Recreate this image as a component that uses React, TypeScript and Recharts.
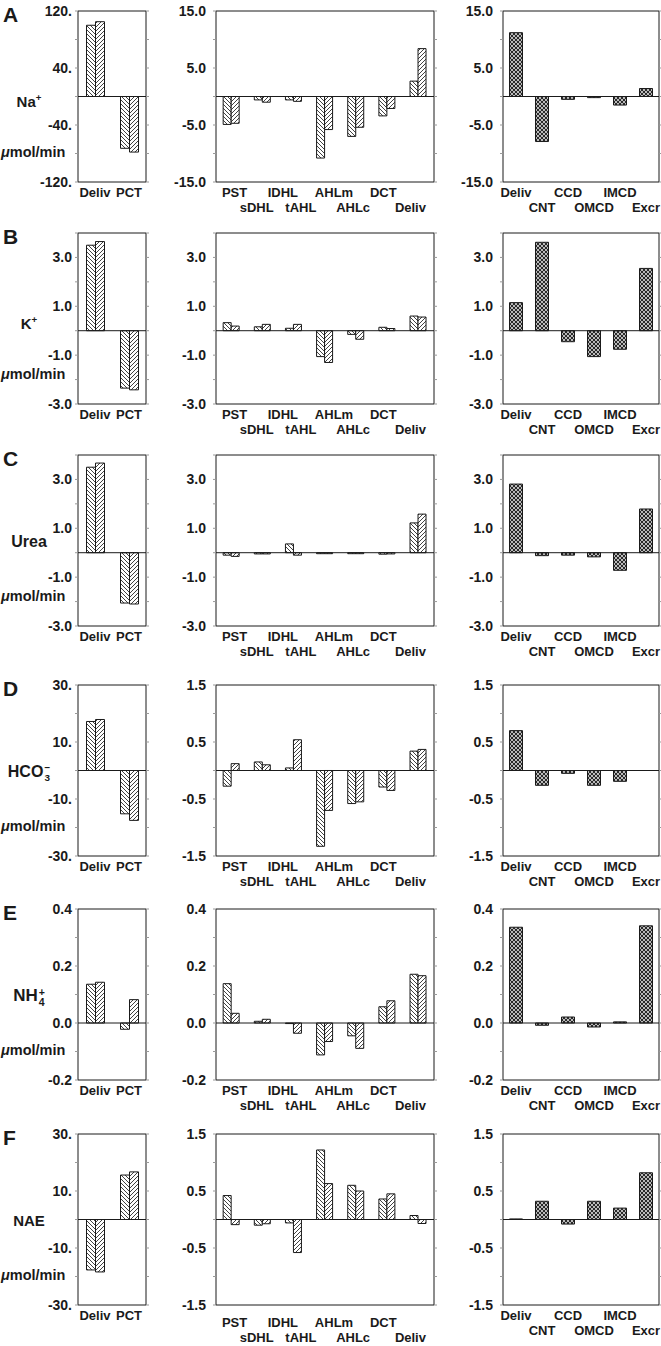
import React from 'react';
import { Bar, BarChart, ReferenceLine, XAxis, YAxis } from 'recharts';

const FONT = '"Liberation Sans", Arial, Helvetica, sans-serif';
const INK = '#1a1a1a';

// categories and labels
const leftCats = ['Deliv', 'PCT'];
const midCats = ['PST', 'sDHL', 'IDHL/tAHL', 'AHLm', 'AHLc', 'DCT', 'Deliv'];
const midLabels = ['PST', 'sDHL', 'IDHL', 'tAHL', 'AHLm', 'AHLc', 'DCT', 'Deliv'];
const midLabelGroup = [0, 1, 2, 2, 3, 4, 5, 6];
const rightCats = ['Deliv', 'CNT', 'CCD', 'OMCD', 'IMCD', 'Excr'];

// y ticks
const ticksNaLeft = [-120, -80, -40, 0, 40, 80, 120];
const labelsNaLeft = ['-120.', '', '-40.', '', '40.', '', '120.'];
const ticksNa = [-15, -10, -5, 0, 5, 10, 15];
const labelsNa = ['-15.0', '', '-5.0', '', '5.0', '', '15.0'];
const ticksK = [-3, -2, -1, 0, 1, 2, 3, 4];
const labelsK = ['-3.0', '', '-1.0', '', '1.0', '', '3.0', ''];
const ticksBigLeft = [-30, -20, -10, 0, 10, 20, 30];
const labelsBigLeft = ['-30.', '', '-10.', '', '10.', '', '30.'];
const ticksSmall = [-1.5, -1, -0.5, 0, 0.5, 1, 1.5];
const labelsSmall = ['-1.5', '', '-0.5', '', '0.5', '', '1.5'];
const ticksNh4 = [-0.2, -0.1, 0, 0.1, 0.2, 0.3, 0.4];
const labelsNh4 = ['-0.2', '', '0.0', '', '0.2', '', '0.4'];

// Na+
const naLeftA = [100, -72.7];
const naLeftB = [105, -78];
const naMidA = [-4.9, -0.6, -0.6, -10.8, -7.0, -3.4, 2.7];
const naMidB = [-4.7, -1.0, -0.85, -5.8, -5.4, -2.1, 8.4];
const naRight = [11.2, -7.9, -0.5, -0.2, -1.5, 1.4];

// K+
const kLeftA = [3.5, -2.35];
const kLeftB = [3.65, -2.42];
const kMidA = [0.33, 0.16, 0.1, -1.06, -0.15, 0.14, 0.6];
const kMidB = [0.19, 0.26, 0.26, -1.3, -0.35, 0.09, 0.56];
const kRight = [1.15, 3.62, -0.45, -1.06, -0.76, 2.55];

// Urea
const ureaLeftA = [3.5, -2.06];
const ureaLeftB = [3.67, -2.1];
const ureaMidA = [-0.1, -0.05, 0.36, -0.04, -0.04, -0.06, 1.22];
const ureaMidB = [-0.15, -0.05, -0.1, -0.04, -0.04, -0.05, 1.58];
const ureaRight = [2.81, -0.12, -0.1, -0.17, -0.72, 1.79];

// HCO3-
const hco3LeftA = [17.2, -15.2];
const hco3LeftB = [17.9, -17.5];
const hco3MidA = [-0.275, 0.15, 0.045, -1.33, -0.58, -0.29, 0.34];
const hco3MidB = [0.12, 0.1, 0.54, -0.7, -0.55, -0.35, 0.37];
const hco3Right = [0.7, -0.26, -0.05, -0.26, -0.19, 0];

// NH4+
const nh4LeftA = [0.136, -0.022];
const nh4LeftB = [0.143, 0.082];
const nh4MidA = [0.138, 0.006, -0.002, -0.112, -0.045, 0.057, 0.171];
const nh4MidB = [0.034, 0.013, -0.036, -0.065, -0.089, 0.078, 0.166];
const nh4Right = [0.336, -0.008, 0.021, -0.014, 0.004, 0.341];

// NAE
const naeLeftA = [-17.7, 15.6];
const naeLeftB = [-18.4, 16.7];
const naeMidA = [0.42, -0.1, -0.06, 1.22, 0.6, 0.36, 0.07];
const naeMidB = [-0.09, -0.075, -0.58, 0.63, 0.5, 0.45, -0.07];
const naeRight = [0.01, 0.32, -0.08, 0.32, 0.2, 0.82];

const YW = 50;
const RW = 6;
const MT = 12;
const PH = 171;
const XH = 44;
// horizontal nudge of the staggered middle labels, relative to their bar group
const MID_LABEL_DX = [3, -6, -11, 7, 9, -3, -4, -8];

const GEO: any = {
  left: { x: 78, w: 68, gap: 3, catGap: '25%', cats: leftCats, fills: ['url(#hb)', 'url(#hf)'] },
  mid: { x: 216, w: 218, gap: 7, catGap: '23%', cats: midCats, fills: ['url(#hb)', 'url(#hf)'] },
  right: { x: 503, w: 156, gap: 7, catGap: '25%', cats: rightCats, fills: ['url(#ck)'] },
};

const labelStyle = { fontSize: 13, fontWeight: 700, fontFamily: FONT, fill: INK };
const tickStyle = { fontSize: 14, fontWeight: 700, fontFamily: FONT, fill: INK };

function catTick(kind: string, drop: number) {
  return (p: any) => {
    const i = p.index ?? p.payload?.index ?? 0;
    if (kind === 'mid') {
      return (
        <g>
          {midLabels.map((t, j) =>
            midLabelGroup[j] === i ? (
              <text
                key={t}
                x={p.x + MID_LABEL_DX[j]}
                y={p.y + (j % 2 ? 25 : 10) + drop}
                textAnchor="middle"
                dominantBaseline="central"
                {...labelStyle}
              >
                {t}
              </text>
            ) : null,
          )}
        </g>
      );
    }
    const dy = kind === 'right' && i % 2 ? 25 : 10;
    return (
      <text x={p.x} y={p.y + dy + drop} textAnchor="middle" dominantBaseline="central" {...labelStyle}>
        {p.payload.value}
      </text>
    );
  };
}

function Panel({ kind, top, series, ticks, labels, drop = 0 }: any) {
  const g = GEO[kind];
  const data = g.cats.map((name: string, i: number) => {
    const row: any = { name };
    series.forEach((s: number[], k: number) => (row['s' + k] = s[i]));
    return row;
  });
  const lo = ticks[0];
  const hi = ticks[ticks.length - 1];
  const fmt = (v: number) => labels[ticks.indexOf(v)] ?? '';
  const yTick = (p: any) => (
    <text x={p.x} y={p.y} textAnchor="end" dominantBaseline="central" {...tickStyle}>
      {fmt(p.payload.value)}
    </text>
  );
  return (
    <div style={{ position: 'absolute', left: g.x - YW, top: top - MT }}>
      <BarChart
        width={YW + g.w + RW}
        height={MT + PH + XH}
        data={data}
        margin={{ top: MT, right: 0, left: 0, bottom: 0 }}
        barGap={0}
        barCategoryGap={g.catGap}
      >
        <XAxis
          dataKey="name"
          height={XH}
          interval={0}
          tickLine={false}
          tickSize={0}
          tickMargin={0}
          axisLine={{ stroke: INK }}
          tick={catTick(kind, drop)}
        />
        <YAxis
          type="number"
          domain={[lo, hi]}
          ticks={ticks}
          interval={0}
          width={YW}
          allowDataOverflow
          tickSize={3}
          tickMargin={g.gap}
          tickLine={{ stroke: '#999' }}
          axisLine={{ stroke: INK }}
          tick={yTick}
        />
        <YAxis
          yAxisId="r"
          orientation="right"
          type="number"
          domain={[lo, hi]}
          ticks={ticks}
          interval={0}
          width={RW}
          allowDataOverflow
          tickSize={3}
          tickLine={{ stroke: '#999' }}
          axisLine={{ stroke: INK }}
          tickFormatter={() => ''}
        />
        {series.map((_: number[], k: number) => (
          <Bar key={k} dataKey={'s' + k} fill={g.fills[k]} stroke={INK} strokeWidth={1} isAnimationActive={false} />
        ))}
        <ReferenceLine y={0} stroke={INK} strokeWidth={1} />
        <ReferenceLine y={hi} stroke={INK} strokeWidth={1} />
      </BarChart>
    </div>
  );
}

const Stack = ({ sup, sub }: { sup: string; sub: string }) => (
  <span
    style={{
      display: 'inline-flex',
      flexDirection: 'column',
      fontSize: '0.62em',
      lineHeight: 0.95,
      verticalAlign: 'middle',
      marginLeft: 1,
    }}
  >
    <span>{sup}</span>
    <span>{sub}</span>
  </span>
);

const rows = [
  {
    letter: 'A', top: 11, size: 15, ion: <>Na<sup style={{ fontSize: '0.65em' }}>+</sup></>,
    left: { series: [naLeftA, naLeftB], ticks: ticksNaLeft, labels: labelsNaLeft },
    mid: { series: [naMidA, naMidB], ticks: ticksNa, labels: labelsNa },
    right: { series: [naRight], ticks: ticksNa, labels: labelsNa },
  },
  {
    letter: 'B', top: 233, size: 15, ion: <>K<sup style={{ fontSize: '0.65em' }}>+</sup></>,
    left: { series: [kLeftA, kLeftB], ticks: ticksK, labels: labelsK },
    mid: { series: [kMidA, kMidB], ticks: ticksK, labels: labelsK },
    right: { series: [kRight], ticks: ticksK, labels: labelsK },
  },
  {
    letter: 'C', top: 455, size: 16, ion: <>Urea</>,
    left: { series: [ureaLeftA, ureaLeftB], ticks: ticksK, labels: labelsK },
    mid: { series: [ureaMidA, ureaMidB], ticks: ticksK, labels: labelsK },
    right: { series: [ureaRight], ticks: ticksK, labels: labelsK },
  },
  {
    letter: 'D', top: 685, size: 16, ion: <>HCO<Stack sup="−" sub="3" /></>,
    left: { series: [hco3LeftA, hco3LeftB], ticks: ticksBigLeft, labels: labelsBigLeft },
    mid: { series: [hco3MidA, hco3MidB], ticks: ticksSmall, labels: labelsSmall },
    right: { series: [hco3Right], ticks: ticksSmall, labels: labelsSmall },
  },
  {
    letter: 'E', top: 909, size: 17, ion: <>NH<Stack sup="+" sub="4" /></>,
    left: { series: [nh4LeftA, nh4LeftB], ticks: ticksNh4, labels: labelsNh4 },
    mid: { series: [nh4MidA, nh4MidB], ticks: ticksNh4, labels: labelsNh4 },
    right: { series: [nh4Right], ticks: ticksNh4, labels: labelsNh4 },
  },
  {
    letter: 'F', top: 1134, size: 15, ion: <>NAE</>, midDrop: 7,
    left: { series: [naeLeftA, naeLeftB], ticks: ticksBigLeft, labels: labelsBigLeft },
    mid: { series: [naeMidA, naeMidB], ticks: ticksSmall, labels: labelsSmall },
    right: { series: [naeRight], ticks: ticksSmall, labels: labelsSmall },
  },
];

export default function App() {
  return (
    <div
      style={{
        position: 'absolute',
        left: 0,
        top: 0,
        width: 661,
        height: 1346,
        overflow: 'hidden',
        background: '#fff',
        fontFamily: FONT,
        color: INK,
      }}
    >
      <svg width={0} height={0} style={{ position: 'absolute' }}>
        <defs>
          <pattern id="hb" patternUnits="userSpaceOnUse" width={4} height={4}>
            <rect width={4} height={4} fill="#fff" />
            <path d="M-1,-1 L5,5 M-1,3 L1,5 M3,-1 L5,1" stroke="#111" strokeWidth={0.8} />
          </pattern>
          <pattern id="hf" patternUnits="userSpaceOnUse" width={4} height={4}>
            <rect width={4} height={4} fill="#fff" />
            <path d="M-1,5 L5,-1 M-1,1 L1,-1 M3,5 L5,3" stroke="#111" strokeWidth={0.8} />
          </pattern>
          <pattern id="ck" patternUnits="userSpaceOnUse" width={4} height={4}>
            <rect width={4} height={4} fill="#2a2a2a" />
            <circle cx={1} cy={1} r={0.9} fill="#fff" />
            <circle cx={3} cy={3} r={0.9} fill="#fff" />
          </pattern>
        </defs>
      </svg>
      {rows.map((r) => (
        <React.Fragment key={r.letter}>
          <div style={{ position: 'absolute', left: 3, top: r.top - 7, fontSize: 21, fontWeight: 700, lineHeight: '22px' }}>
            {r.letter}
          </div>
          <div
            style={{
              position: 'absolute',
              left: 0,
              width: 58,
              top: r.top + 87 - 11,
              textAlign: 'center',
              fontSize: r.size,
              fontWeight: 700,
              lineHeight: '22px',
              whiteSpace: 'nowrap',
            }}
          >
            {r.ion}
          </div>
          <div style={{ position: 'absolute', left: 1, top: r.top + 141 - 9, fontSize: 14.5, fontWeight: 700, lineHeight: '18px' }}>
            <span style={{ fontStyle: 'italic' }}>μ</span>mol/min
          </div>
          <Panel kind="left" top={r.top} {...r.left} />
          <Panel kind="mid" top={r.top} drop={r.midDrop ?? 0} {...r.mid} />
          <Panel kind="right" top={r.top} {...r.right} />
        </React.Fragment>
      ))}
    </div>
  );
}
